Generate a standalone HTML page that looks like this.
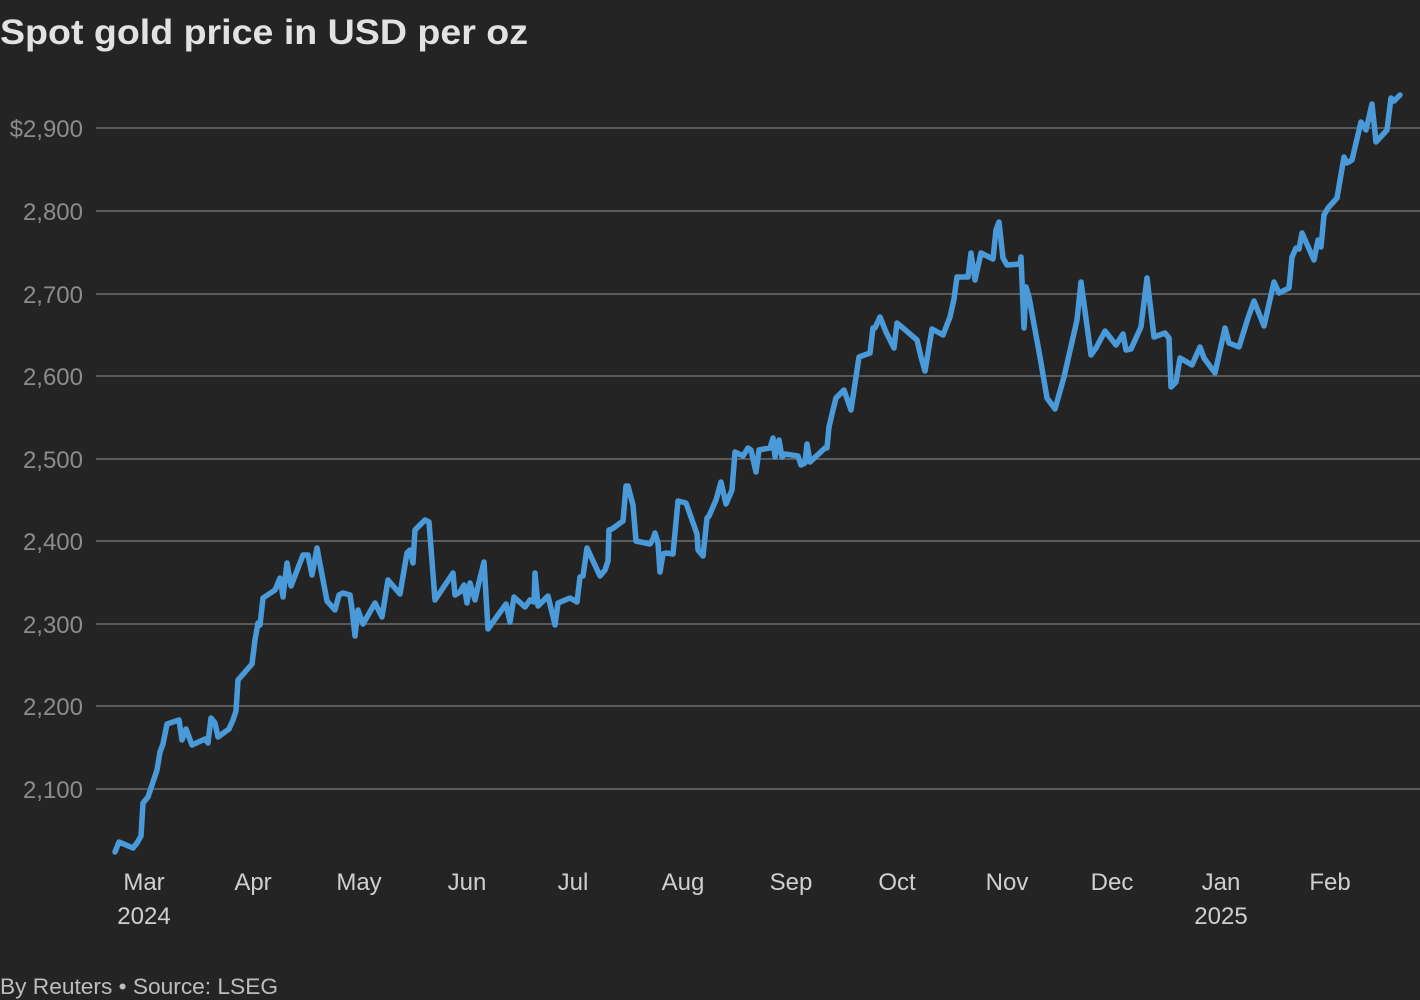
<!DOCTYPE html>
<html><head><meta charset="utf-8"><style>
html,body{margin:0;padding:0;background:#242424;}
svg{display:block;}
text{font-family:"Liberation Sans",sans-serif;}
</style></head><body>
<svg width="1420" height="1000" viewBox="0 0 1420 1000" xmlns="http://www.w3.org/2000/svg">
<rect width="1420" height="1000" fill="#242424"/>
<text x="0" y="44" font-size="35" font-weight="bold" fill="#e2e2e2" textLength="528" lengthAdjust="spacingAndGlyphs">Spot gold price in USD per oz</text>
<g stroke="#5a5a5a" stroke-width="2">
<line x1="96" y1="128" x2="1420" y2="128"/>
<line x1="96" y1="211" x2="1420" y2="211"/>
<line x1="96" y1="294" x2="1420" y2="294"/>
<line x1="96" y1="376" x2="1420" y2="376"/>
<line x1="96" y1="459" x2="1420" y2="459"/>
<line x1="96" y1="541" x2="1420" y2="541"/>
<line x1="96" y1="624" x2="1420" y2="624"/>
<line x1="96" y1="706" x2="1420" y2="706"/>
<line x1="96" y1="789" x2="1420" y2="789"/>
</g>
<g font-size="24" fill="#8c8c8c" text-anchor="end">
<text x="83" y="137">$2,900</text>
<text x="83" y="220">2,800</text>
<text x="83" y="303">2,700</text>
<text x="83" y="385">2,600</text>
<text x="83" y="468">2,500</text>
<text x="83" y="550">2,400</text>
<text x="83" y="633">2,300</text>
<text x="83" y="715">2,200</text>
<text x="83" y="798">2,100</text>
</g>
<g font-size="24" fill="#cfcfcf" text-anchor="middle">
<text x="144" y="890">Mar</text>
<text x="144" y="924">2024</text>
<text x="253" y="890">Apr</text>
<text x="359" y="890">May</text>
<text x="467" y="890">Jun</text>
<text x="573" y="890">Jul</text>
<text x="683" y="890">Aug</text>
<text x="791" y="890">Sep</text>
<text x="897" y="890">Oct</text>
<text x="1007" y="890">Nov</text>
<text x="1112" y="890">Dec</text>
<text x="1221" y="890">Jan</text>
<text x="1221" y="924">2025</text>
<text x="1330" y="890">Feb</text>
</g>
<text x="0" y="994" font-size="22" fill="#bdbdbd" textLength="278" lengthAdjust="spacingAndGlyphs">By Reuters • Source: LSEG</text>
<polyline fill="none" stroke="#4a9ad9" stroke-width="5.5" stroke-linejoin="round" stroke-linecap="round" points="
115,852 119,842 133,848 137,843 141,836 143,803 148,797 157,770 160,752 163,744 167,724 179,720 182,740 186,729 192,745 205,739 208,743 211,718 215,723 218,737 229,729 233,720 236,711 238,680 252,664 255,640 258,623 260,625 263,598 266,596 275,590 280,578 283,597 287,563 291,586 303,555 308,555 312,575 317,548 327,601 335,610 339,595 343,593 350,595 352,609 355,636 358,610 363,624 375,603 382,617 388,580 400,594 407,553 410,550 413,563 415,530 425,520 429,522 435,600 453,573 455,595 460,592 464,585 467,603 470,583 475,600 479,582 484,562 488,629 506,604 510,622 514,597 525,607 530,600 534,602 535,573 538,606 548,596 555,625 558,603 570,598 577,602 580,577 583,576 587,548 600,576 605,570 608,561 609,530 612,529 623,521 626,486 628,486 633,505 636,541 650,544 653,539 655,533 658,543 660,572 663,554 666,553 673,554 678,501 686,503 697,534 698,550 703,556 707,518 709,516 716,500 721,482 726,504 732,490 735,452 743,456 748,448 751,450 756,472 759,450 764,449 770,448 773,438 775,457 779,440 782,457 785,454 798,456 801,465 805,463 807,444 810,462 825,448 827,448 829,427 833,410 836,398 844,390 851,410 859,357 870,353 873,328 875,328 880,317 886,332 894,348 897,323 903,328 917,340 921,357 925,371 932,329 943,335 950,317 954,299 957,277 968,277 971,253 975,280 981,253 993,259 996,230 999,222 1003,258 1007,265 1020,264 1021,257 1024,328 1026,287 1029,297 1040,357 1047,398 1055,409 1064,377 1077,320 1081,282 1091,355 1096,348 1105,331 1116,345 1123,334 1126,350 1131,349 1141,327 1147,278 1154,337 1165,333 1169,338 1171,387 1176,382 1180,358 1192,365 1200,347 1204,358 1215,373 1225,328 1229,343 1239,347 1248,318 1254,301 1264,326 1274,282 1279,293 1289,288 1292,257 1296,248 1299,249 1302,233 1314,260 1318,240 1321,247 1324,215 1328,208 1337,198 1344,157 1347,163 1352,160 1361,122 1366,130 1372,104 1376,142 1387,130 1391,98 1394,101 1400,95"/>
</svg>
</body></html>
